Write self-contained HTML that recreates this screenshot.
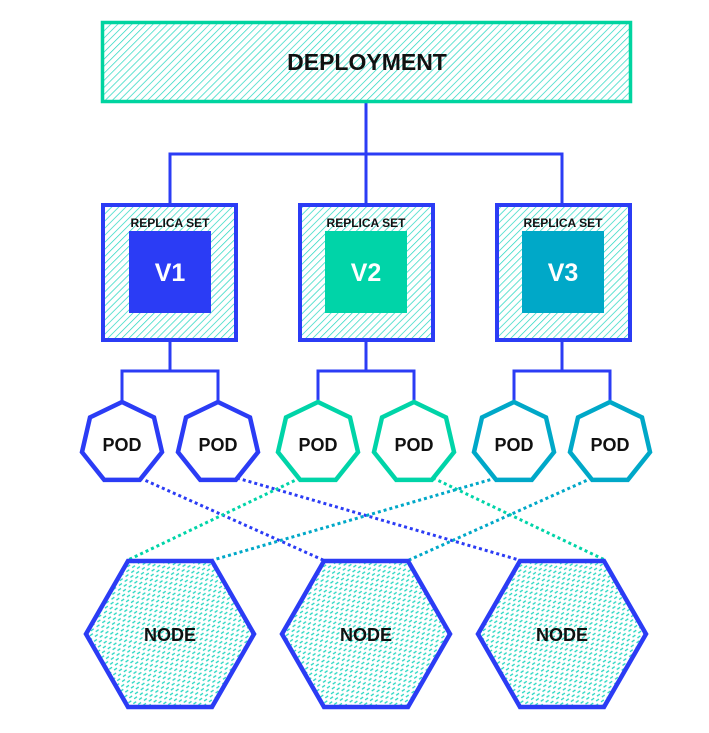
<!DOCTYPE html>
<html><head><meta charset="utf-8"><style>
html,body{margin:0;padding:0;background:#fff;}
svg{display:block;}
text{font-family:"Liberation Sans","DejaVu Sans",sans-serif;font-weight:bold;text-anchor:middle;}
</style></head><body>
<svg width="709" height="733" viewBox="0 0 709 733" xmlns="http://www.w3.org/2000/svg">
<defs>
<pattern id="hatch" width="5" height="5" patternUnits="userSpaceOnUse" patternTransform="rotate(45)">
<rect width="5" height="5" fill="#fff"/>
<line x1="0" y1="0" x2="0" y2="5" stroke="#22d6c0" stroke-width="1.4"/>
</pattern>
<pattern id="dash" width="7" height="7" patternUnits="userSpaceOnUse" patternTransform="rotate(-35)">
<rect width="7" height="7" fill="#fff"/>
<line x1="0" y1="1" x2="3.5" y2="1" stroke="#22d6c0" stroke-width="1.3"/>
<line x1="3.5" y1="4.5" x2="7" y2="4.5" stroke="#22d6c0" stroke-width="1.3"/>
</pattern>
</defs>

<!-- connectors -->
<g stroke="#2b3cf5" stroke-width="3" fill="none">
<path d="M366 103 V154 M170 204 V154 H562 V204 M366 154 V204"/>
<path d="M170 342 V371 M122 402 V371 H218 V402"/>
<path d="M366 342 V371 M318 402 V371 H414 V402"/>
<path d="M562 342 V371 M514 402 V371 H610 V402"/>
</g>

<!-- deployment -->
<rect x="102.5" y="22.5" width="528" height="79" fill="url(#hatch)" stroke="#00d4a0" stroke-width="3.5"/>
<text x="367" y="70" font-size="23" fill="#111">DEPLOYMENT</text>

<!-- replica sets -->
<g stroke="#2b3cf5" stroke-width="4" fill="url(#hatch)">
<rect x="103" y="205" width="133" height="135"/>
<rect x="300" y="205" width="133" height="135"/>
<rect x="497" y="205" width="133" height="135"/>
</g>
<rect x="129" y="231" width="82" height="82" fill="#2b3cf5"/>
<rect x="325" y="231" width="82" height="82" fill="#00d4a8"/>
<rect x="522" y="231" width="82" height="82" fill="#00a8c8"/>
<g font-size="12" fill="#111">
<text x="170" y="227">REPLICA SET</text>
<text x="366" y="227">REPLICA SET</text>
<text x="563" y="227">REPLICA SET</text>
</g>
<g font-size="25" fill="#fff" font-weight="normal">
<text x="170" y="281">V1</text>
<text x="366" y="281">V2</text>
<text x="563" y="281">V3</text>
</g>

<!-- dotted lines -->
<g stroke-width="3" stroke-dasharray="3 3" fill="none">
<line x1="140" y1="478" x2="323" y2="560" stroke="#2b3cf5"/>
<line x1="237" y1="478" x2="519" y2="560" stroke="#2b3cf5"/>
<line x1="300" y1="478" x2="128" y2="560" stroke="#00d4a8"/>
<line x1="433" y1="478" x2="605" y2="560" stroke="#00d4a8"/>
<line x1="496" y1="478" x2="213" y2="560" stroke="#00a8c8"/>
<line x1="592" y1="478" x2="409" y2="560" stroke="#00a8c8"/>
</g>

<!-- pods -->
<g stroke-width="4.5" fill="#fff" stroke-linejoin="miter">
<polygon transform="translate(122,443)" stroke="#2b3cf5" points="0,-41 32,-25.6 40,9.1 17.8,36.9 -17.8,36.9 -40,9.1 -32,-25.6"/>
<polygon transform="translate(218,443)" stroke="#2b3cf5" points="0,-41 32,-25.6 40,9.1 17.8,36.9 -17.8,36.9 -40,9.1 -32,-25.6"/>
<polygon transform="translate(318,443)" stroke="#00d4a8" points="0,-41 32,-25.6 40,9.1 17.8,36.9 -17.8,36.9 -40,9.1 -32,-25.6"/>
<polygon transform="translate(414,443)" stroke="#00d4a8" points="0,-41 32,-25.6 40,9.1 17.8,36.9 -17.8,36.9 -40,9.1 -32,-25.6"/>
<polygon transform="translate(514,443)" stroke="#00a8c8" points="0,-41 32,-25.6 40,9.1 17.8,36.9 -17.8,36.9 -40,9.1 -32,-25.6"/>
<polygon transform="translate(610,443)" stroke="#00a8c8" points="0,-41 32,-25.6 40,9.1 17.8,36.9 -17.8,36.9 -40,9.1 -32,-25.6"/>
</g>
<g font-size="18" fill="#111">
<text x="122" y="451">POD</text>
<text x="218" y="451">POD</text>
<text x="318" y="451">POD</text>
<text x="414" y="451">POD</text>
<text x="514" y="451">POD</text>
<text x="610" y="451">POD</text>
</g>

<!-- nodes -->
<g stroke="#2b3cf5" stroke-width="4.5" fill="url(#dash)">
<polygon transform="translate(170,634)" points="-84,0 -42,-73 42,-73 84,0 42,73 -42,73"/>
<polygon transform="translate(366,634)" points="-84,0 -42,-73 42,-73 84,0 42,73 -42,73"/>
<polygon transform="translate(562,634)" points="-84,0 -42,-73 42,-73 84,0 42,73 -42,73"/>
</g>
<g font-size="18" fill="#111">
<text x="170" y="641">NODE</text>
<text x="366" y="641">NODE</text>
<text x="562" y="641">NODE</text>
</g>
</svg>
</body></html>
